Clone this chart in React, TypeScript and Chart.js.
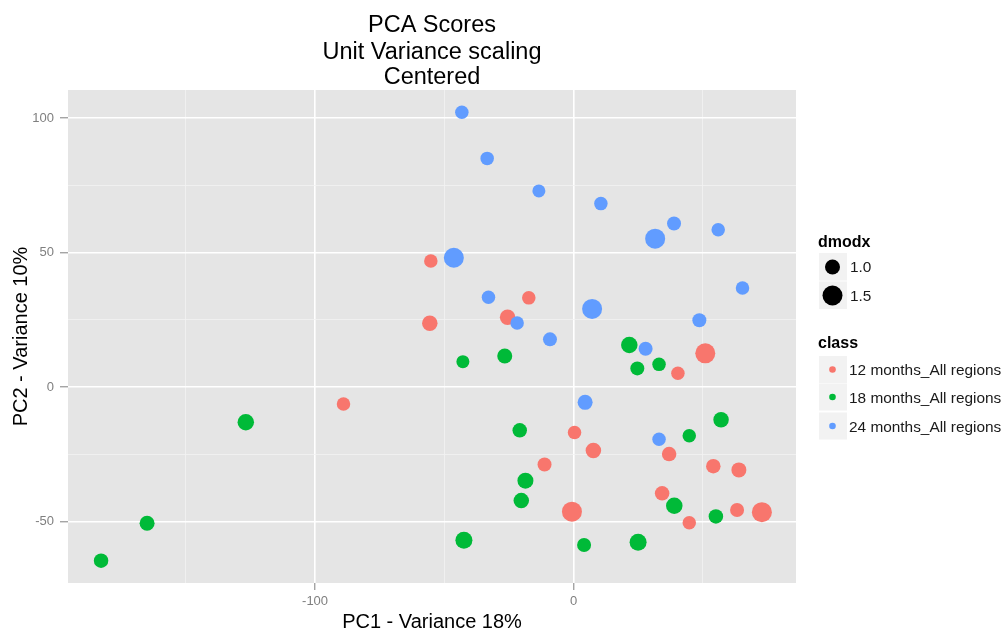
import React, { useEffect, useRef } from "react";
import { Chart, registerables } from "chart.js";

Chart.register(...registerables);

const classLabels = ["12 months_All regions", "18 months_All regions", "24 months_All regions"];
const classColors = ["#F8766D", "#00BA38", "#619CFF"];

// 12 months
const pc1_12 = [-55.2, -17.3, -55.6, -25.5, 51.0, 40.4, -89.0, 0.4, 7.7, 37.0, -11.2, 54.1, 64.0, 34.3, -0.6, 63.3, 72.9, 44.8];
const pc2_12 = [46.9, 33.2, 23.8, 26.0, 12.6, 5.2, -6.2, -16.8, -23.5, -24.8, -28.7, -29.3, -30.7, -39.4, -46.2, -45.6, -46.4, -50.3];
const dmodx_12 = [0.85, 0.85, 1.05, 1.05, 1.5, 0.85, 0.85, 0.85, 1.05, 0.95, 0.9, 0.95, 1.0, 0.95, 1.5, 0.9, 1.5, 0.85];

// 18 months
const pc1_18 = [21.6, -42.8, -26.6, 24.7, 33.1, -126.8, -165.0, -182.8, 57.1, -20.8, 44.8, -18.6, -20.2, 39.0, 55.1, -42.4, 4.1, 25.0];
const pc2_18 = [15.7, 9.5, 11.6, 7.0, 8.5, -13.0, -50.5, -64.4, -12.1, -16.0, -18.0, -34.7, -42.1, -44.0, -48.0, -56.8, -58.6, -57.6];
const dmodx_18 = [1.15, 0.8, 1.0, 0.9, 0.85, 1.15, 1.0, 0.95, 1.05, 0.95, 0.85, 1.1, 1.05, 1.15, 0.95, 1.2, 0.9, 1.2];

// 24 months
const pc1_24 = [-43.2, -33.4, -13.4, 10.6, 38.9, 31.6, 56.0, -46.3, 65.4, -32.9, 7.2, -21.8, 48.7, -9.1, 27.9, 4.5, 33.1];
const pc2_24 = [102.1, 85.0, 72.9, 68.2, 60.8, 55.2, 58.5, 48.1, 36.9, 33.4, 29.1, 23.9, 24.9, 17.8, 14.3, -5.6, -19.3];
const dmodx_24 = [0.85, 0.85, 0.8, 0.85, 0.9, 1.5, 0.85, 1.5, 0.85, 0.85, 1.5, 0.85, 0.9, 0.9, 0.9, 1.0, 0.85];

const xTickLabels = [-100, 0];
const yTickLabels = [-50, 0, 50, 100];
const dmodxLegend = [1.0, 1.5];

const titleLines = ["PCA Scores", "Unit Variance scaling", "Centered"];
const xTitle = "PC1 - Variance 18%";
const yTitle = "PC2 - Variance 10%";

const FONT = "'Liberation Sans', Arial, Helvetica, sans-serif";

function radius(d: number) {
  return 7.5 + (d - 1) * 5.0;
}

function makeData(xs: number[], ys: number[]) {
  return xs.map((x, i) => ({ x, y: ys[i] }));
}

const bgPlugin = {
  id: "bgPlugin",
  beforeDraw(chart: any) {
    const { ctx, chartArea } = chart;
    ctx.save();
    ctx.fillStyle = "#E5E5E5";
    ctx.fillRect(chartArea.left, chartArea.top, chartArea.right - chartArea.left, chartArea.bottom - chartArea.top);
    ctx.restore();
  },
  afterDraw(chart: any) {
    const { ctx, chartArea } = chart;
    const cx = (chartArea.left + chartArea.right) / 2;
    const cy = (chartArea.top + chartArea.bottom) / 2;
    ctx.save();
    ctx.fillStyle = "#000000";
    ctx.textAlign = "center";
    ctx.textBaseline = "alphabetic";
    ctx.font = `23.5px ${FONT}`;
    const ty = [32, 58.5, 83.5];
    titleLines.forEach((t, i) => ctx.fillText(t, cx, ty[i]));

    ctx.font = `20px ${FONT}`;
    ctx.fillText(xTitle, cx, 628);
    ctx.save();
    ctx.translate(27, cy);
    ctx.rotate(-Math.PI / 2);
    ctx.fillText(yTitle, 0, 0);
    ctx.restore();

    // legend
    const lx = 819;
    ctx.textAlign = "left";
    ctx.font = `bold 16px ${FONT}`;
    ctx.fillText("dmodx", 818, 247);
    const dRows = [253, 281.5];
    dmodxLegend.forEach((d, i) => {
      ctx.fillStyle = "#F2F2F2";
      ctx.fillRect(lx, dRows[i], 28, 27.5);
      ctx.fillStyle = "#000000";
      ctx.beginPath();
      ctx.arc(lx + 13.5, dRows[i] + 14, radius(d), 0, Math.PI * 2);
      ctx.fill();
      ctx.font = `15.4px ${FONT}`;
      ctx.fillStyle = "#1A1A1A";
      ctx.fillText(d.toFixed(1), 850, dRows[i] + 19);
    });

    ctx.fillStyle = "#000000";
    ctx.font = `bold 16px ${FONT}`;
    ctx.fillText("class", 818, 348);
    const cRows = [356, 383.5, 412.5];
    classLabels.forEach((lab, i) => {
      ctx.fillStyle = "#F2F2F2";
      ctx.fillRect(lx, cRows[i], 28, 27);
      ctx.fillStyle = classColors[i];
      ctx.beginPath();
      ctx.arc(lx + 13.5, cRows[i] + 13.5, 3.3, 0, Math.PI * 2);
      ctx.fill();
      ctx.font = `15.4px ${FONT}`;
      ctx.fillStyle = "#1A1A1A";
      ctx.fillText(lab, 849, cRows[i] + 19);
    });
    ctx.restore();
  },
};

export default function App() {
  const ref = useRef<HTMLCanvasElement | null>(null);
  useEffect(() => {
    if (!ref.current) return;
    const ds = [
      { label: classLabels[2], xs: pc1_24, ys: pc2_24, ds: dmodx_24, color: classColors[2] },
      { label: classLabels[0], xs: pc1_12, ys: pc2_12, ds: dmodx_12, color: classColors[0] },
      { label: classLabels[1], xs: pc1_18, ys: pc2_18, ds: dmodx_18, color: classColors[1] },
    ];
    const chart = new Chart(ref.current, {
      type: "scatter",
      data: {
        datasets: ds.map((d) => ({
          label: d.label,
          data: makeData(d.xs, d.ys),
          backgroundColor: d.color,
          borderColor: d.color,
          borderWidth: 0,
          pointRadius: d.ds.map(radius),
          pointHoverRadius: d.ds.map(radius),
        })),
      },
      options: {
        responsive: false,
        animation: false,
        events: [],
        layout: { padding: { top: 90, right: 207, left: 0, bottom: 0 } },
        plugins: { legend: { display: false }, tooltip: { enabled: false }, title: { display: false } },
        scales: {
          x: {
            type: "linear",
            min: -195.6,
            max: 86.1,
            afterFit: (s: any) => { s.height = 50; },
            border: { display: false },
            grid: {
              color: (c: any) => (xTickLabels.includes(c.tick?.value) ? "#FFFFFF" : "#F2F2F2"),
              lineWidth: (c: any) => (xTickLabels.includes(c.tick?.value) ? 1.6 : 0.8),
              tickColor: (c: any) => (xTickLabels.includes(c.tick?.value) ? "#7F7F7F" : "rgba(0,0,0,0)"),
              tickLength: 7,
              tickWidth: 1,
            },
            ticks: {
              stepSize: 50,
              includeBounds: false,
              autoSkip: false,
              maxRotation: 0,
              padding: 4,
              color: "#7F7F7F",
              font: { family: FONT, size: 13 },
              callback: (v: any) => (xTickLabels.includes(v) ? String(v) : ""),
            },
          },
          y: {
            type: "linear",
            min: -72.7,
            max: 110.4,
            afterFit: (s: any) => { s.width = 68; },
            border: { display: false },
            grid: {
              color: (c: any) => (yTickLabels.includes(c.tick?.value) ? "#FFFFFF" : "#F2F2F2"),
              lineWidth: (c: any) => (yTickLabels.includes(c.tick?.value) ? 1.6 : 0.8),
              tickColor: (c: any) => (yTickLabels.includes(c.tick?.value) ? "#7F7F7F" : "rgba(0,0,0,0)"),
              tickLength: 8,
              tickWidth: 1,
            },
            ticks: {
              stepSize: 25,
              includeBounds: false,
              autoSkip: false,
              padding: 6,
              color: "#7F7F7F",
              font: { family: FONT, size: 13 },
              callback: (v: any) => (yTickLabels.includes(v) ? String(v) : ""),
            },
          },
        },
      },
      plugins: [bgPlugin],
    });
    return () => chart.destroy();
  }, []);
  return (
    <div style={{ position: "absolute", left: 0, top: 0, width: 1003, height: 633, background: "#fff" }}>
      <canvas ref={ref} width={1003} height={633} style={{ display: "block" }} />
    </div>
  );
}
